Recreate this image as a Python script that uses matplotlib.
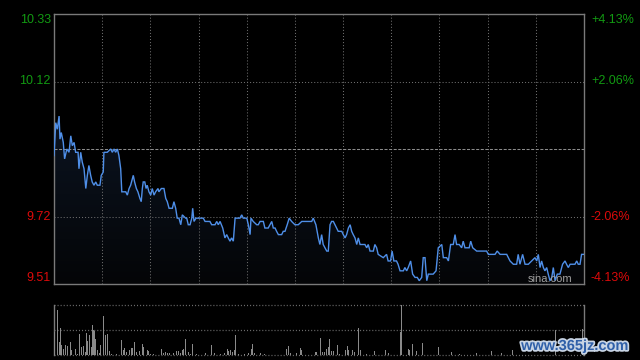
import numpy as np
import matplotlib
matplotlib.use("Agg")
import matplotlib.pyplot as plt
import matplotlib.patheffects as pe
from matplotlib.colors import LinearSegmentedColormap

# ---- data ----
prev_close = 9.92
price_hi, price_lo = 10.33, 9.51
left_labels = ["10.33", "10.12", "9.72", "9.51"]
right_labels = ["+4.13%", "+2.06%", "-2.06%", "-4.13%"]
label_levels = [2, 1, -1, -2]          # in half-range steps from prev close

minutes = [
    0.0, 0.8, 1.5, 2.3, 2.7, 3.3, 4.2, 4.8, 5.8, 6.8, 7.6, 8.3, 9.1, 9.8, 10.9,
    11.3, 12.1, 12.8, 13.6, 14.4, 15.1, 15.8, 16.6, 17.3, 18.1, 18.9, 19.6, 20.8,
    21.4, 22.3, 22.6, 24.1, 25.7, 26.4, 27.2, 27.9, 28.7, 29.4, 30.2, 30.7, 31.7,
    32.5, 33.2, 34.0, 34.7, 35.5, 35.9, 36.5, 37.3, 38.0, 38.9, 39.5, 40.0, 40.4,
    41.1, 41.7, 42.2, 43.0, 43.8, 44.5, 45.3, 46.0, 47.1, 47.5, 48.6, 49.8, 50.6,
    51.3, 52.1, 53.6, 54.3, 55.1, 55.8, 56.6, 57.4, 58.1, 59.6, 60.1, 60.8, 61.6,
    62.4, 62.8, 63.4, 64.3, 65.3, 66.1, 67.6, 68.4, 70.6, 71.4, 72.9, 73.7, 74.4,
    75.2, 76.4, 77.4, 78.2, 78.9, 79.7, 80.4, 81.2, 82.0, 83.5, 84.2, 85.0, 85.7,
    86.5, 87.3, 88.0, 88.8, 89.2, 90.2, 91.8, 92.5, 93.3, 94.8, 95.5, 96.3, 97.0,
    97.8, 98.6, 99.3, 100.1, 100.8, 101.6, 103.1, 103.8, 104.6, 105.6, 106.5,
    107.6, 109.1, 109.9, 110.6, 112.2, 116.7, 117.4, 118.6, 119.7, 120.4, 121.2,
    121.9, 122.7, 123.5, 124.2, 125.0, 125.7, 126.5, 128.0, 128.7, 129.5, 130.3,
    131.0, 131.8, 132.5, 133.3, 134.1, 134.8, 135.5, 136.3, 137.1, 137.8, 138.6,
    140.8, 141.6, 142.3, 143.1, 144.6, 145.3, 146.1, 146.8, 149.1, 150.6, 151.3,
    152.4, 153.1, 153.9, 155.1, 155.8, 156.7, 157.4, 158.2, 158.9, 159.7, 160.4,
    161.5, 162.4, 163.5, 164.5, 165.4, 166.5, 167.2, 168.0, 168.8, 169.5, 171.7,
    173.0, 174.0, 175.6, 176.3, 177.8, 178.6, 179.6, 180.8, 181.6, 182.3, 183.5,
    184.6, 185.3, 186.1, 188.0, 188.7, 189.6, 191.4, 195.9, 196.7, 199.7, 200.7,
    202.0, 205.0, 206.5, 208.0, 209.5, 210.2, 211.0, 212.2, 213.3, 214.8, 216.3,
    217.8, 218.6, 219.3, 220.1, 220.8, 221.6, 222.3, 223.1, 223.8, 224.6, 225.4,
    226.1, 226.9, 227.9, 229.1, 230.3, 231.4, 232.1, 232.9, 233.7, 234.9, 235.9,
    236.7, 237.4, 238.2, 238.9, 239.7,
]
prices = [
    9.90, 10.00, 9.98, 10.02, 9.95, 9.97, 9.94, 9.89, 9.92, 9.91, 9.96, 9.93, 9.94,
    9.91, 9.91, 9.86, 9.91, 9.88, 9.86, 9.80, 9.84, 9.87, 9.84, 9.82, 9.81, 9.82,
    9.81, 9.81, 9.84, 9.85, 9.91, 9.91, 9.92, 9.91, 9.92, 9.91, 9.92, 9.90, 9.86,
    9.79, 9.79, 9.79, 9.78, 9.80, 9.81, 9.83, 9.84, 9.82, 9.80, 9.79, 9.77, 9.76,
    9.80, 9.82, 9.82, 9.80, 9.81, 9.79, 9.78, 9.80, 9.78, 9.79, 9.80, 9.79, 9.80,
    9.80, 9.77, 9.76, 9.74, 9.74, 9.76, 9.74, 9.71, 9.71, 9.69, 9.72, 9.71, 9.71,
    9.69, 9.69, 9.71, 9.74, 9.70, 9.71, 9.71, 9.71, 9.71, 9.70, 9.70, 9.69, 9.69,
    9.70, 9.69, 9.70, 9.68, 9.65, 9.66, 9.65, 9.64, 9.65, 9.64, 9.71, 9.71, 9.71,
    9.72, 9.71, 9.71, 9.71, 9.69, 9.66, 9.71, 9.70, 9.69, 9.69, 9.70, 9.70, 9.68,
    9.68, 9.68, 9.69, 9.70, 9.68, 9.68, 9.67, 9.66, 9.66, 9.67, 9.67, 9.69, 9.71,
    9.70, 9.69, 9.69, 9.69, 9.70, 9.70, 9.71, 9.69, 9.65, 9.63, 9.66, 9.63, 9.62,
    9.61, 9.61, 9.69, 9.70, 9.70, 9.68, 9.67, 9.67, 9.67, 9.66, 9.65, 9.66, 9.68,
    9.69, 9.67, 9.66, 9.65, 9.63, 9.65, 9.63, 9.63, 9.62, 9.63, 9.61, 9.61, 9.63,
    9.62, 9.60, 9.59, 9.60, 9.58, 9.58, 9.61, 9.58, 9.58, 9.57, 9.55, 9.55, 9.55,
    9.56, 9.55, 9.56, 9.58, 9.54, 9.53, 9.53, 9.52, 9.53, 9.59, 9.59, 9.52, 9.54,
    9.54, 9.55, 9.62, 9.63, 9.59, 9.59, 9.58, 9.63, 9.63, 9.66, 9.63, 9.63, 9.62,
    9.64, 9.62, 9.62, 9.64, 9.62, 9.61, 9.61, 9.60, 9.60, 9.61, 9.60, 9.60, 9.58,
    9.57, 9.57, 9.60, 9.57, 9.60, 9.57, 9.57, 9.58, 9.59, 9.58, 9.60, 9.56, 9.58,
    9.56, 9.55, 9.56, 9.54, 9.52, 9.53, 9.56, 9.52, 9.54, 9.54, 9.57, 9.58, 9.57,
    9.56, 9.57, 9.57, 9.57, 9.58, 9.57, 9.57, 9.60, 9.60,
]

vol_minutes = [
    0.4, 1.5, 2.4, 2.9, 3.6, 4.2, 5.1, 6.0, 7.4, 7.8,
    9.6, 10.6, 11.5, 12.4, 13.3, 14.2, 14.6, 15.1, 16.0, 16.9,
    17.3, 17.8, 18.4, 18.7, 19.6, 20.5, 21.1, 22.3, 23.2, 24.1,
    25.0, 26.1, 28.4, 30.5, 31.4, 31.8, 32.9, 34.1, 35.2, 35.6,
    36.4, 37.4, 38.6, 40.0, 40.4, 42.2, 42.9, 43.8, 45.0, 48.6,
    49.5, 50.4, 51.3, 52.2, 54.3, 55.5, 56.6, 57.4, 58.1, 58.7,
    59.5, 60.8, 61.6, 62.5, 62.9, 64.6, 68.8, 71.5, 72.9, 75.2,
    77.0, 78.5, 79.2, 80.0, 80.7, 81.6, 82.4, 83.5, 86.2, 88.0,
    89.3, 89.8, 90.6, 93.3, 95.5, 105.1, 106.1, 106.9, 109.6, 111.4,
    112.2, 118.2, 118.9, 120.8, 121.7, 122.7, 123.5, 124.2, 124.7, 125.7,
    126.5, 128.3, 129.2, 131.9, 132.8, 133.4, 135.2, 136.1, 137.9, 138.7,
    141.6, 145.0, 149.9, 151.4, 156.7, 157.3, 160.4, 161.2, 162.2, 164.2,
    166.8, 174.0, 180.1, 183.8, 191.1, 197.9, 202.7, 207.5, 226.9, 239.2,
]
volumes = [
    47, 90, 27, 55, 21, 13, 20, 18, 26, 10,
    12, 3, 43, 17, 19, 7, 45, 28, 41, 17,
    60, 50, 49, 33, 11, 5, 20, 78, 40, 43,
    9, 2, 3, 30, 10, 15, 7, 10, 15, 15,
    27, 7, 8, 22, 17, 10, 9, 3, 2, 12,
    5, 7, 5, 5, 5, 9, 8, 5, 10, 12,
    33, 7, 3, 17, 23, 3, 5, 20, 5, 3,
    5, 13, 9, 10, 7, 11, 41, 2, 3, 5,
    13, 23, 5, 5, 3, 12, 18, 5, 5, 15,
    10, 7, 7, 35, 7, 7, 13, 17, 33, 9,
    9, 20, 3, 10, 18, 11, 10, 7, 55, 11,
    3, 8, 11, 5, 47, 100, 13, 10, 22, 8,
    25, 17, 7, 3, 5, 8, 5, 10, 51, 52,
]

# ---- style ----
plt.rcParams["lines.scale_dashes"] = False
plt.rcParams["font.family"] = ["Liberation Sans", "DejaVu Sans"]

BG = "#000000"
FRAME = "#7a7a7a"
GRID = "#6e6e6e"
LINE = "#4f8fe8"
GREEN = "#129a12"
RED = "#dd0a0a"
DOT = (0, (0.75, 1.45))

fig = plt.figure(figsize=(6.4, 3.6), dpi=100, facecolor=BG)
ax = fig.add_axes([54 / 640, 1 - 284 / 360, 530 / 640, 270 / 360], facecolor=BG)
axv = fig.add_axes([54 / 640, 1 - 355 / 360, 530 / 640, 50 / 360], facecolor=BG)

t_end = 240
ax.set_xlim(0, t_end)
ax.set_ylim(price_lo, price_hi)

# gradient fill under the price line
fill = ax.fill_between(minutes, prices, price_lo, facecolor="none", edgecolor="none")
cmap = LinearSegmentedColormap.from_list("under", ["#040507", "#0a111c", "#111b2b"])
grad = np.linspace(0, 1, 256).reshape(-1, 1)
im = ax.imshow(grad, extent=[0, t_end, price_lo, price_hi], origin="lower",
               aspect="auto", cmap=cmap, zorder=1)
im.set_clip_path(fill.get_paths()[0], transform=ax.transData)

# grid
for k in range(1, 11):
    ax.axvline(t_end * k / 11, color=GRID, lw=0.75, ls=DOT, zorder=2)
half = (price_hi - prev_close) / 2
for lv in label_levels:
    if abs(lv) == 1:
        ax.axhline(prev_close + lv * half, color=GRID, lw=0.75, ls=DOT, zorder=2)
ax.axhline(prev_close, color="#8c8c8c", lw=0.75, ls=(0, (2.2, 1.1)), zorder=2)

ax.plot(minutes, prices, color=LINE, lw=1.0, zorder=3, solid_joinstyle="miter")

for s in ax.spines.values():
    s.set_color(FRAME)
    s.set_linewidth(1.0)
ax.set_xticks([])
ax.set_yticks([])

# axis labels on both sides
for lv, ltxt, rtxt in zip(label_levels, left_labels, right_labels):
    y = prev_close + lv * half
    col = GREEN if lv > 0 else RED
    va = "top" if lv == 2 else ("bottom" if lv == -2 else "center")
    ax.text(-0.006, y, ltxt, transform=ax.get_yaxis_transform(), ha="right",
            va=va, color=col, fontsize=9)
    ax.text(1.013, y, rtxt, transform=ax.get_yaxis_transform(), ha="left",
            va=va, color=col, fontsize=9)

ax.text(0.978, 0.02, "sina.com", transform=ax.transAxes, ha="right", va="center",
        color="#a0a0a0", fontsize=8, zorder=4)

# volume panel
axv.set_xlim(0, t_end)
axv.set_ylim(0, max(volumes))
axv.bar(vol_minutes, volumes, width=0.45, color="#8a8a8a", linewidth=0, zorder=3)
for yy in (0, max(volumes) / 2, max(volumes)):
    axv.axhline(yy, color=GRID, lw=0.9, ls=DOT, zorder=2, clip_on=False)
for side in ("top", "bottom"):
    axv.spines[side].set_visible(False)
for side in ("left", "right"):
    axv.spines[side].set_color(FRAME)
    axv.spines[side].set_linewidth(1.0)
axv.set_xticks([])
axv.set_yticks([])

# watermark
fig.text(575 / 640, 1 - 346 / 360, "www.365jz.com", ha="center", va="center",
         color="#2f5fa8", fontsize=10.5, fontweight="bold",
         path_effects=[pe.withStroke(linewidth=2.5, foreground="#c8d4e4")])

fig.savefig("out.png", dpi=100, facecolor=BG)
